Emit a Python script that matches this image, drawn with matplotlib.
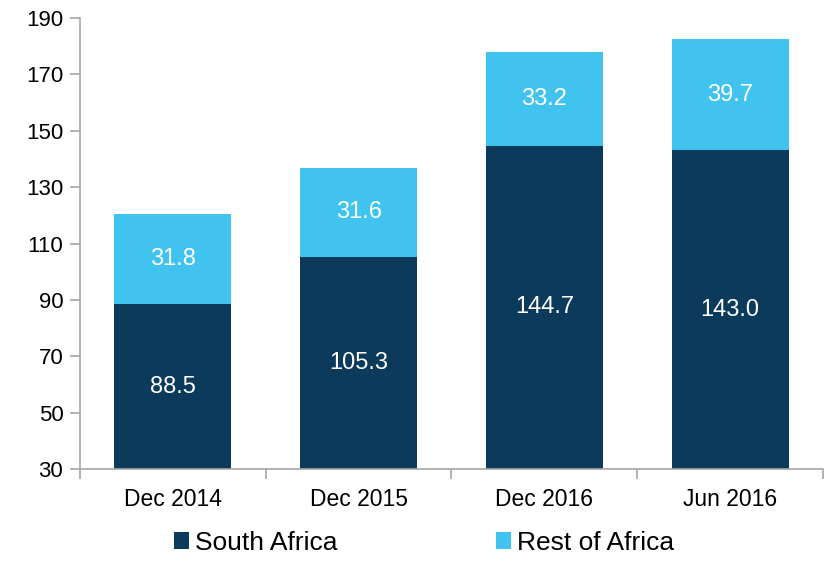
import matplotlib.pyplot as plt
import numpy as np

plt.rcParams['font.family'] = ['Liberation Sans', 'DejaVu Sans']

# data
periods = ["Dec 2014", "Dec 2015", "Dec 2016", "Jun 2016"]
south_africa = [88.5, 105.3, 144.7, 143.0]
rest_of_africa = [31.8, 31.6, 33.2, 39.7]

navy = "#0B3A5B"
sky = "#41C3F0"
axis_grey = "#A6A6A6"

fig = plt.figure(figsize=(8.29, 5.61), dpi=100)
ax = fig.add_axes([80 / 829, 1 - 469 / 561, (823 - 80) / 829, (469 - 18) / 561])

x = np.arange(len(periods))
w = 0.63
ymin = 30

ax.bar(x, south_africa, w, color=navy, label="South Africa")
ax.bar(x, rest_of_africa, w, bottom=south_africa, color=sky, label="Rest of Africa")

# value labels, centred on the visible part of each segment
for i in range(len(periods)):
    sa = south_africa[i]
    ra = rest_of_africa[i]
    ax.text(x[i], (ymin + sa) / 2, f"{sa:.1f}", ha="center", va="center",
            color="white", fontsize=17)
    ax.text(x[i], sa + ra / 2, f"{ra:.1f}", ha="center", va="center",
            color="white", fontsize=17)

ax.set_ylim(ymin, 190)
ax.set_yticks(range(30, 191, 20))
ax.set_xlim(-0.5, 3.5)
ax.set_xticks(x)
ax.set_xticklabels(periods)
ax.set_xticks(np.arange(-0.5, 4, 1), minor=True)

for s in ["top", "right"]:
    ax.spines[s].set_visible(False)
for s in ["left", "bottom"]:
    ax.spines[s].set_color(axis_grey)
    ax.spines[s].set_linewidth(1.2)

ax.tick_params(axis="y", length=7, width=1.2, color=axis_grey, labelsize=16, pad=5)
ax.tick_params(axis="x", which="major", length=0, labelsize=16.5, pad=14)
ax.tick_params(axis="x", which="minor", length=7, width=1.2, color=axis_grey)

fig.legend(loc="lower left", bbox_to_anchor=(163 / 829, -0.008), ncol=2,
           frameon=False, fontsize=19, handlelength=0.6, handleheight=0.6,
           handletextpad=0.2, columnspacing=6.0, borderaxespad=0)

fig.savefig("out.png", dpi=100)
